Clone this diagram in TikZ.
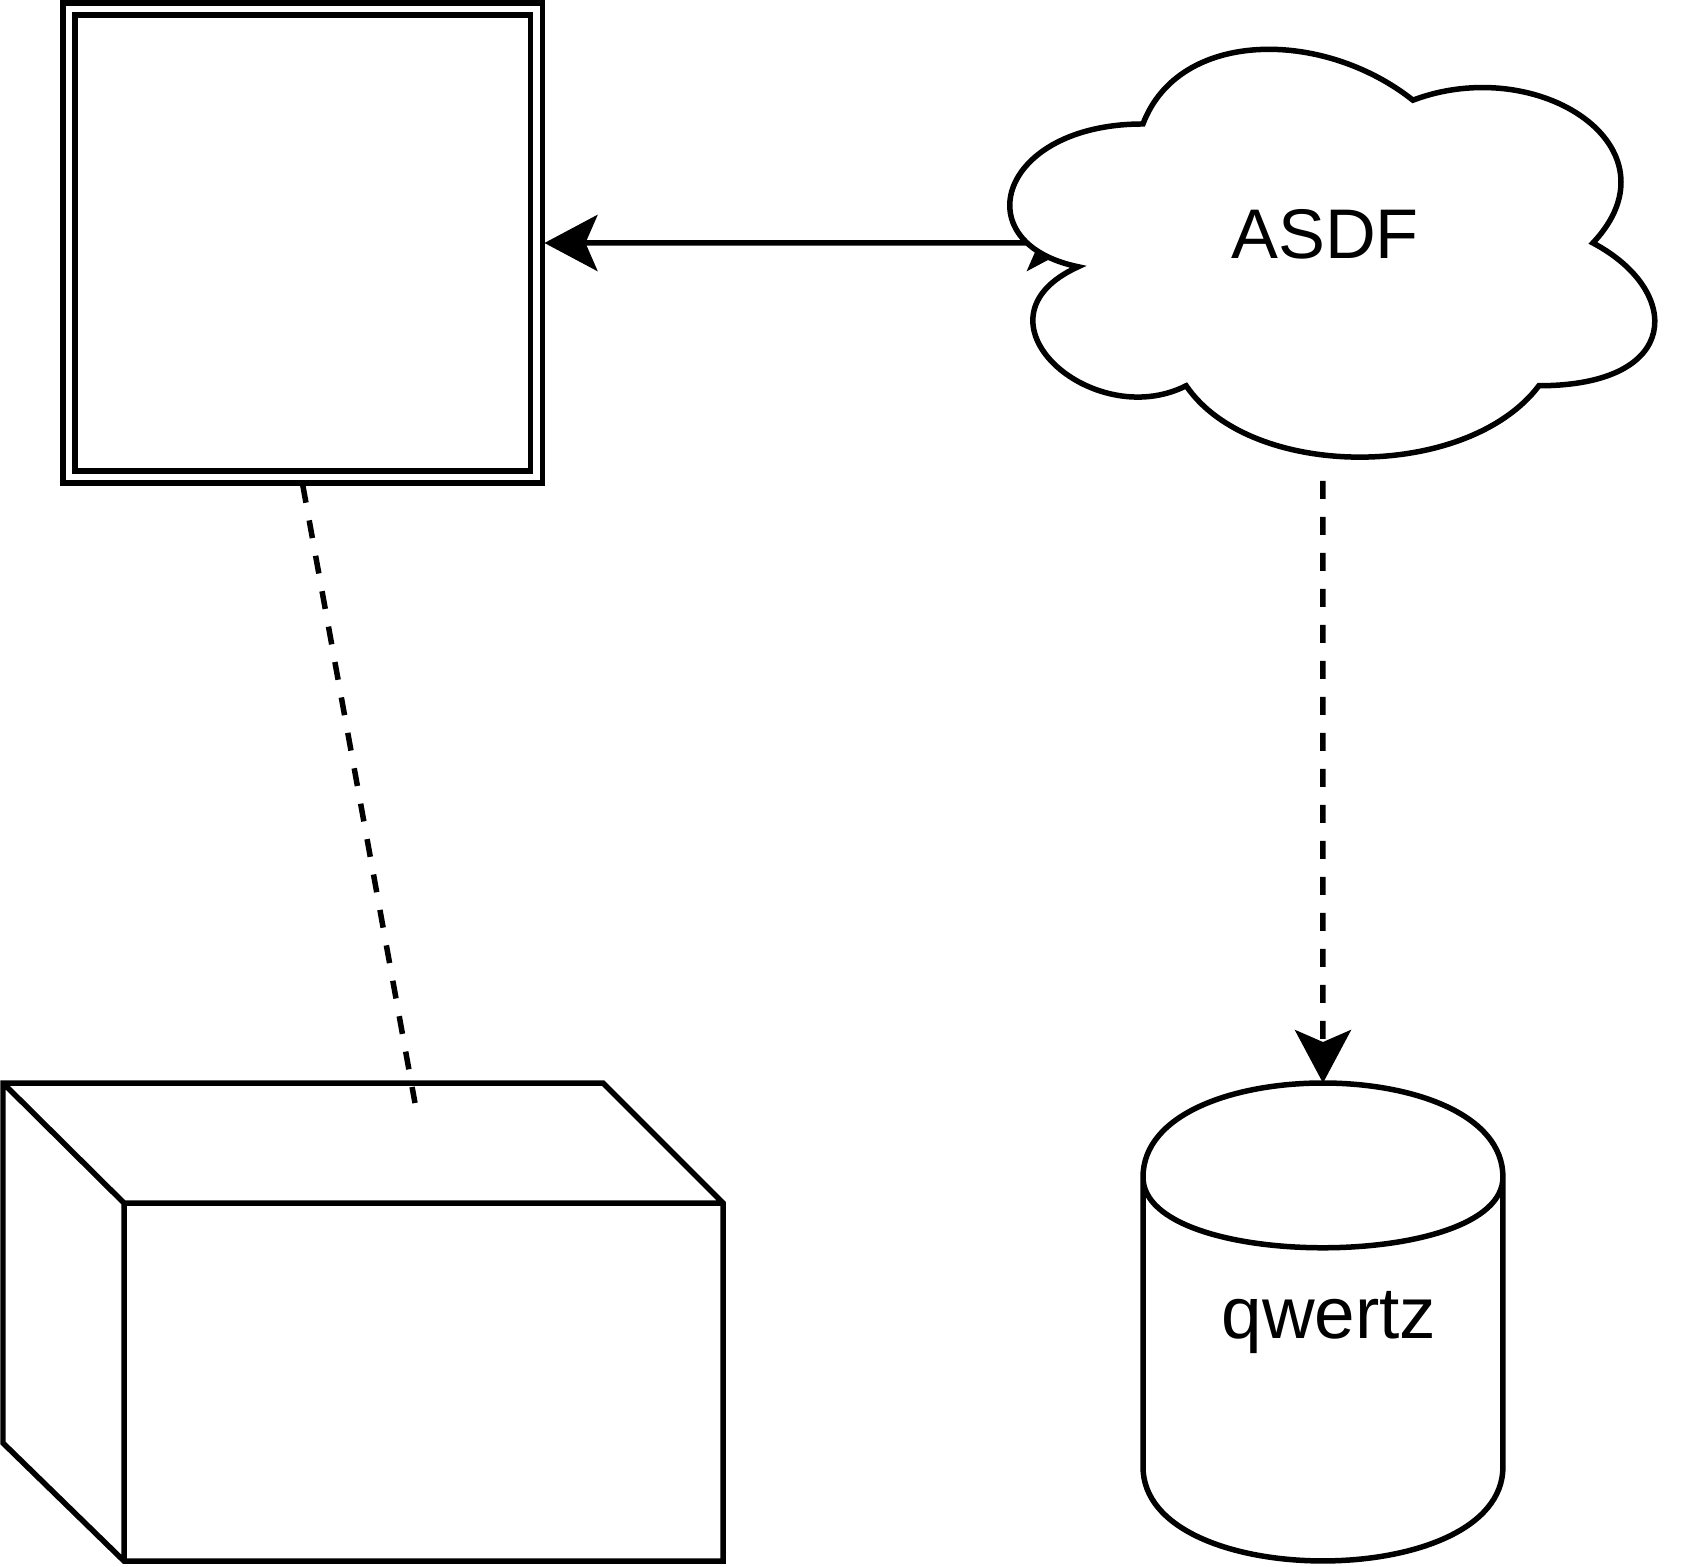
\documentclass[tikz,border=0pt]{standalone}
\usepackage{fontspec}
\setmainfont{Liberation Sans}
\usetikzlibrary{arrows.meta,backgrounds}

\begin{document}
\begin{tikzpicture}[x=0.02cm, y=-0.02cm, line width=0.11cm,
    >={Stealth[length=1.06cm,width=1.12cm,inset=0.24cm]},
    dashline/.style={dash pattern=on 0.36cm off 0.36cm},
    lbl/.style={font=\fontsize{40}{48}\selectfont, inner sep=0}]
   \useasboundingbox (0,0) rectangle (1686,1566);

   % double framed square
   \node[draw, double, double distance=0.13cm, inner sep=0, outer sep=0.16cm,
         minimum width=9.35cm, minimum height=9.36cm] (frame) at (302.75,243) {};

   % cube
   \draw (3,1083) -- (603,1083) -- (723,1203) -- (723,1561) -- (124,1561) -- (3,1443) -- cycle
         (3,1083) -- (124,1203) -- (723,1203) (124,1203) -- (124,1561);
   \coordinate (cubetop) at (415,1103);

   % cylinder
   \begin{scope}[shift={(1143,1083)}, x=7.2cm, y=-9.56cm]
      \draw (0,0.197) .. controls (0,-0.0657) and (1,-0.0657) .. (1,0.197) -- (1,0.803)
            .. controls (1,1.0657) and (0,1.0657) .. (0,0.803) -- cycle
            (0,0.197) .. controls (0,0.394) and (1,0.394) .. (1,0.197);
      \coordinate (dbtop) at (0.5,0);
   \end{scope}
   \node[lbl, font=\fontsize{41.5}{50}\selectfont, anchor=base] (qwertz) at (1329,1338) {qwertz};

   % cloud
   \begin{scope}[shift={(963,5)}, x=14.4cm, y=-9.52cm]
      \draw[fill=white] (0.25,0.25) .. controls (0.05,0.25) and (0,0.5) .. (0.16,0.55)
            .. controls (0,0.66) and (0.18,0.9) .. (0.31,0.8)
            .. controls (0.4,1) and (0.7,1) .. (0.8,0.8)
            .. controls (1,0.8) and (1,0.6) .. (0.875,0.5)
            .. controls (1,0.3) and (0.8,0.1) .. (0.625,0.2)
            .. controls (0.5,0.05) and (0.3,0.05) .. (0.25,0.25) -- cycle;
      \coordinate (cloudin) at (0.1625,0.5);
      \coordinate (cloudout) at (0.5,1);
   \end{scope}
   \node[lbl, anchor=base] (asdf) at (1325,258) {ASDF};

   \begin{scope}[on background layer]
      \path[<->, line width=0.11cm] (frame) edge (cloudin);
   \end{scope}
   \path[->, dashline] (cloudout) edge (dbtop);
   \path[dashline] (frame.south) edge (cubetop);
\end{tikzpicture}
\end{document}
